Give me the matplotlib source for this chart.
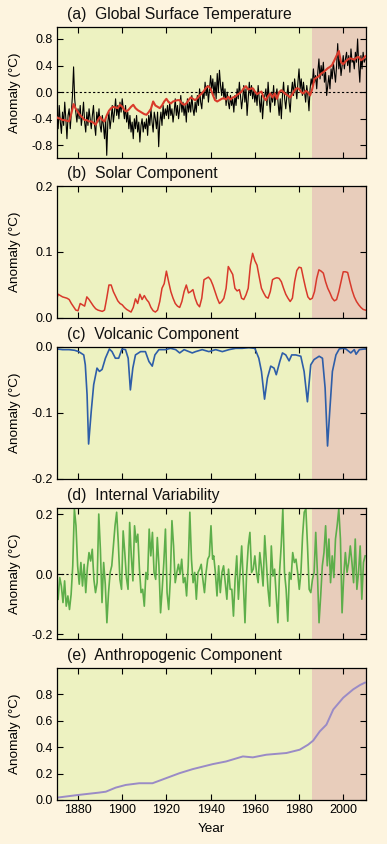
import numpy as np
import matplotlib
matplotlib.use("Agg")
import matplotlib.pyplot as plt

plt.rcParams['font.family'] = ['Liberation Sans', 'DejaVu Sans']
plt.rcParams['axes.unicode_minus'] = False

# ---------------- data ----------------
# (a) global surface temperature, half-yearly (black) from 1870.5
temp_raw = [
    -0.35, -0.55, -0.20, -0.45, -0.62, -0.30, -0.50, -0.15, -0.40, -0.70, -0.35, -0.25, -0.55, -0.30, -0.05, 0.38, -0.10, -0.30, -0.45, -0.25,
    -0.40, -0.20, -0.50, -0.35, -0.15, -0.45, -0.60, -0.30, -0.50, -0.25, -0.40, -0.55, -0.35, -0.20, -0.50, -0.65, -0.30, -0.45, -0.25, -0.50,
    -0.60, -0.35, -0.50, -0.70, -0.40, -0.95, -0.45, -0.30, -0.55, -0.40, -0.20, -0.45, -0.30, -0.10, -0.35, -0.20, -0.40, -0.15, -0.30, -0.10,
    -0.25, -0.40, -0.20, -0.45, -0.30, -0.55, -0.35, -0.60, -0.45, -0.70, -0.40, -0.55, -0.35, -0.60, -0.45, -0.75, -0.50, -0.40, -0.60, -0.45,
    -0.55, -0.40, -0.65, -0.35, -0.50, -0.25, -0.45, -0.60, -0.30, -0.40, -0.55, -0.30, -0.82, -0.45, -0.30, -0.50, -0.20, -0.40, -0.25, -0.35,
    -0.20, -0.40, -0.15, -0.35, -0.25, -0.45, -0.30, -0.10, -0.35, -0.20, -0.40, -0.25, -0.05, -0.30, -0.15, -0.35, -0.20, -0.45, -0.10, -0.30,
    -0.15, -0.30, -0.05, -0.25, -0.35, -0.15, -0.30, -0.05, -0.20, 0.05, -0.15, -0.25, 0.00, -0.10, 0.15, -0.05, 0.10, -0.15, 0.05, 0.25,
    0.05, 0.20, -0.05, 0.15, -0.10, 0.28, 0.00, 0.33, 0.10, -0.05, 0.15, -0.10, 0.05, -0.20, 0.00, -0.15, -0.25, -0.05, -0.20, -0.10,
    -0.30, -0.05, -0.20, 0.05, -0.10, 0.15, -0.05, -0.25, -0.10, 0.10, -0.15, 0.05, -0.35, -0.10, 0.15, -0.05, 0.10, -0.10, 0.05, -0.15,
    0.00, -0.20, 0.10, -0.10, -0.30, -0.05, -0.40, -0.15, -0.05, 0.05, -0.20, 0.15, -0.10, -0.30, 0.00, -0.15, 0.10, -0.20, -0.05, 0.05,
    -0.15, -0.35, -0.10, -0.40, -0.05, 0.15, -0.10, -0.25, -0.05, 0.10, -0.15, -0.30, 0.00, 0.15, -0.05, 0.20, 0.05, -0.10, 0.15, 0.35,
    0.05, 0.20, -0.05, 0.15, 0.00, -0.15, 0.10, -0.05, -0.28, 0.05, 0.20, 0.10, 0.35, 0.15, 0.25, 0.05, 0.30, 0.50, 0.20, 0.40,
    0.25, 0.45, 0.15, 0.30, -0.05, 0.10, 0.25, 0.05, 0.35, 0.20, 0.45, 0.30, 0.15, 0.40, 0.73, 0.35, 0.50, 0.25, 0.40, 0.55,
    0.35, 0.50, 0.60, 0.40, 0.55, 0.30, 0.65, 0.45, 0.50, 0.35, 0.60, 0.45, 0.80, 0.40, 0.15, 0.55, 0.35, 0.60, 0.45, 0.50,
]
temp_raw_start = 1870.5

# (a) smoothed / fitted temperature, annual from 1870 (red)
temp_fit = [
    -0.37, -0.39, -0.40, -0.42, -0.42, -0.43, -0.44, -0.32, -0.18, -0.25,
    -0.30, -0.35, -0.38, -0.42, -0.42, -0.44, -0.44, -0.46, -0.49, -0.42,
    -0.37, -0.42, -0.44, -0.35, -0.28, -0.24, -0.22, -0.23, -0.24, -0.19,
    -0.22, -0.27, -0.29, -0.26, -0.22, -0.19, -0.24, -0.27, -0.29, -0.31,
    -0.33, -0.34, -0.30, -0.25, -0.14, -0.20, -0.22, -0.24, -0.20, -0.14,
    -0.10, -0.15, -0.17, -0.14, -0.13, -0.12, -0.12, -0.17, -0.19, -0.17,
    -0.12, -0.08, -0.10, -0.12, -0.09, -0.05, -0.02, 0.02, 0.07, 0.09,
    0.05, -0.04, -0.12, -0.14, -0.12, -0.10, -0.09, -0.11, -0.07, -0.11,
    -0.08, -0.07, -0.04, -0.02, 0.01, 0.06, 0.09, 0.04, 0.05, 0.06,
    0.01, -0.03, -0.01, 0.01, -0.08, -0.12, -0.06, -0.02, -0.08, -0.02,
    -0.10, 0.00, 0.03, 0.00, -0.03, -0.05, -0.08, -0.03, 0.03, 0.06,
    0.05, 0.00, -0.02, 0.02, 0.00, -0.05, 0.05, 0.20, 0.22, 0.24,
    0.28, 0.30, 0.33, 0.36, 0.38, 0.41, 0.48, 0.55, 0.62, 0.45,
    0.42, 0.46, 0.49, 0.51, 0.50, 0.49, 0.52, 0.53, 0.48, 0.50,
    0.54,
]
temp_fit_start = 1870

# (b) solar component, annual from 1870
solar = [
    .024, .036, .034, .032, .031, .030, .028, .022, .017, .012,
    .011, .022, .020, .018, .032, .028, .023, .018, .014, .012,
    .011, .010, .012, .030, .050, .050, .040, .033, .026, .022,
    .020, .016, .013, .011, .009, .016, .029, .022, .036, .028,
    .034, .028, .024, .016, .011, .009, .012, .025, .045, .052,
    .071, .055, .040, .030, .022, .018, .016, .025, .040, .050,
    .038, .040, .043, .030, .021, .017, .030, .058, .060, .062,
    .058, .050, .040, .030, .022, .025, .030, .045, .078, .072,
    .066, .045, .041, .043, .030, .028, .035, .045, .080, .098,
    .087, .080, .062, .045, .038, .032, .030, .040, .058, .060,
    .061, .060, .055, .045, .036, .030, .025, .030, .055, .072,
    .077, .076, .060, .045, .032, .028, .030, .040, .060, .073,
    .071, .068, .055, .045, .038, .030, .026, .028, .040, .055,
    .070, .070, .069, .055, .042, .032, .025, .020, .016, .013,
    .012,
]
solar_start = 1870

# (c) volcanic component
volc_years = [1870.6, 1873, 1876, 1878.5, 1880.3, 1882.6, 1883.3, 1884.1, 1884.8, 1886.0,
              1887.1, 1888.6, 1889.7, 1890.9, 1892.4, 1894.2, 1895.4, 1896.9, 1898.4, 1899.9,
              1901.5, 1902.7, 1903.7, 1904.8, 1906.0, 1908.3, 1910.5, 1912.1, 1913.6, 1914.8,
              1916.6, 1919.6, 1921.9, 1924.2, 1926.0, 1928.0, 1930.2, 1931.7, 1933.2, 1936.2,
              1939.2, 1942.3, 1945.3, 1948.3, 1951.3, 1954.3, 1957.3, 1960.0, 1961.8, 1963.0,
              1964.4, 1965.7, 1967.2, 1968.7, 1969.7, 1971.3, 1972.5, 1974.0, 1975.5, 1976.7,
              1978.5, 1980.8, 1982.3, 1983.8, 1985.3, 1986.8, 1989.1, 1990.6, 1991.8, 1992.9,
              1993.9, 1995.1, 1996.7, 1998.2, 1999.7, 2001.2, 2003.4, 2005.0, 2005.8, 2007.3,
              2009.6, 2010.3]
volc_vals = [-0.003, -0.004, -0.004, -0.005, -0.007, -0.012, -0.027, -0.072, -0.147, -0.097,
             -0.057, -0.032, -0.037, -0.034, -0.017, -0.003, -0.007, -0.017, -0.017, -0.003,
             -0.004, -0.017, -0.065, -0.032, -0.012, -0.007, -0.007, -0.022, -0.029, -0.012,
             -0.004, -0.004, -0.002, -0.004, -0.009, -0.004, -0.007, -0.009, -0.007, -0.004,
             -0.007, -0.004, -0.007, -0.004, -0.002, -0.002, -0.001, -0.002, -0.017, -0.037,
             -0.079, -0.047, -0.029, -0.032, -0.042, -0.022, -0.009, -0.012, -0.021, -0.012,
             -0.012, -0.014, -0.037, -0.083, -0.027, -0.019, -0.014, -0.017, -0.062, -0.150,
             -0.097, -0.037, -0.012, -0.003, -0.002, -0.003, -0.009, -0.004, -0.011, -0.004,
             -0.003, -0.003]

# (d) internal variability (two stretches, roughly 0.75-yr steps)
intvar_1 = [
    -0.083, -0.011, -0.039, -0.094, -0.022, -0.106, -0.072, -0.117, -0.067, 0.028,
    0.217, 0.161, 0.028, -0.033, 0.039, -0.039, 0.033, -0.061, 0.022, 0.072,
    0.044, 0.083, -0.017, -0.061, -0.028, 0.200, 0.083, -0.094, 0.039, -0.033,
    -0.161, -0.061, 0.006, 0.028, 0.094, 0.161, 0.206, 0.106, -0.017, -0.050,
    0.144, 0.072, -0.011, -0.050, 0.172, 0.061, -0.022, 0.161, 0.106, 0.133,
    0.017, -0.061, -0.050, -0.106, 0.006, -0.017, 0.150, 0.061, 0.139, 0.006,
    -0.017, 0.122, 0.028, -0.128, -0.050, 0.039, 0.150, -0.061, -0.117, -0.017,
    0.178, 0.094, -0.028, 0.006, 0.033, 0.000, 0.050, -0.028, -0.011, -0.072,
    0.028, 0.206, 0.050, -0.028, 0.006, -0.083, 0.006, 0.017, 0.033, -0.017,
    -0.061, 0.006, 0.050, 0.061, 0.161, 0.050,
]
intvar_1_span = (1871.0, 1940.9)
intvar_2 = [
    0.061, 0.006, -0.072, 0.028, -0.061, 0.006, 0.028, -0.028, -0.083, 0.017,
    -0.050, -0.050, -0.139, -0.017, 0.061, -0.083, 0.006, 0.094, -0.028, -0.161,
    0.006, 0.094, 0.139, 0.006, 0.017, 0.061, 0.006, -0.028, 0.072, 0.022,
    -0.039, 0.128, 0.039, -0.050, -0.106, 0.094, -0.006, 0.017, -0.072, -0.161,
    0.006, 0.094, 0.217, 0.006, -0.050, -0.156, 0.006, -0.017, 0.072, 0.039,
    0.050, 0.006, -0.050, 0.006, 0.128, 0.206, 0.217, 0.094, -0.050, -0.061,
    -0.017, 0.006, 0.139, 0.006, -0.161, -0.072, 0.028, 0.072, 0.161, 0.028,
    0.117, -0.028, 0.061, -0.011, 0.117, 0.161, 0.217, 0.117, -0.128, -0.006,
    0.072, 0.006, 0.039, 0.094, 0.039, -0.028, 0.117, -0.050, 0.006, 0.094,
    -0.083, 0.039, 0.061,
]
intvar_2_span = (1941.4, 2009.9)

# (e) anthropogenic component
anth_years = [1870.6, 1880.0, 1889.5, 1892.6, 1897.1, 1901.6, 1907.7, 1913.7, 1919.8, 1925.9,
              1931.9, 1941.0, 1947.0, 1954.6, 1959.1, 1965.2, 1974.3, 1980.3, 1984.1, 1986.4,
              1989.4, 1992.4, 1995.5, 2000.0, 2004.5, 2007.6, 2009.8]
anth_vals = [0.018, 0.038, 0.056, 0.063, 0.094, 0.114, 0.127, 0.127, 0.165, 0.203,
             0.234, 0.272, 0.292, 0.330, 0.323, 0.343, 0.356, 0.381, 0.419, 0.450,
             0.520, 0.571, 0.686, 0.775, 0.838, 0.871, 0.889]

titles = ["(a)  Global Surface Temperature", "(b)  Solar Component",
          "(c)  Volcanic Component", "(d)  Internal Variability",
          "(e)  Anthropogenic Component"]
year_ticks = [1880, 1900, 1920, 1940, 1960, 1980, 2000]
yticks = [[0.8, 0.4, 0.0, -0.4, -0.8], [0.0, 0.1, 0.2], [0.0, -0.1, -0.2],
          [0.2, 0.0, -0.2], [0.0, 0.2, 0.4, 0.6, 0.8]]
ylims = [(-0.99, 0.98), (0.0, 0.2), (-0.2, 0.0), (-0.215, 0.22), (0.0, 1.0)]
split_year = 1986

# ---------------- style ----------------
BG = '#FDF4DF'
GREEN = '#EDF2C1'
PINK = '#E8CDBB'
XMIN, XMAX = 1870.5, 2010.3

fig = plt.figure(figsize=(3.87, 8.44), dpi=100, facecolor=BG)
L, W = 57 / 387, 309 / 387
rows = [(27, 158), (186, 318), (347, 479), (508, 639), (668, 800)]
axes = []
for i, (top, bot) in enumerate(rows):
    ax = fig.add_axes([L, 1 - bot / 844, W, (bot - top) / 844])
    ax.set_facecolor(GREEN)
    ax.axvspan(split_year, XMAX + 5, color=PINK, lw=0, zorder=0)
    ax.set_xlim(XMIN, XMAX)
    ax.set_ylim(*ylims[i])
    ax.set_xticks(year_ticks)
    ax.set_yticks(yticks[i])
    ax.set_yticklabels([f"{v:.1f}" for v in yticks[i]])
    ax.tick_params(direction='in', top=True, right=True, length=4, width=0.8,
                   labelsize=9, pad=3, colors='black')
    if i < 4:
        ax.tick_params(labelbottom=False)
    for s in ax.spines.values():
        s.set_linewidth(0.9)
    ax.set_ylabel('Anomaly (°C)', fontsize=9.7)
    ax.yaxis.set_label_coords(-0.115, 0.5)
    ax.text(0.032, 1.062, titles[i], transform=ax.transAxes, fontsize=11.3,
            va='baseline', ha='left', color='#111111')
    axes.append(ax)

# (a)
ax = axes[0]
x_raw = temp_raw_start + 0.5 * np.arange(len(temp_raw))
x_fit = temp_fit_start + np.arange(len(temp_fit))
ax.axhline(0, color='black', lw=0.8, ls=(0, (2, 2)), zorder=1)
ax.plot(x_raw, temp_raw, color='black', lw=0.8, zorder=2)
ax.plot(x_fit, temp_fit, color='#D93B2B', lw=1.5, zorder=3)

# (b)
ax = axes[1]
ax.plot(solar_start + np.arange(len(solar)), solar, color='#D8392B', lw=1.1)

# (c)
ax = axes[2]
ax.plot(volc_years, volc_vals, color='#2E5EA8', lw=1.2)

# (d)
ax = axes[3]
ax.axhline(0, color='black', lw=0.8, ls=(0, (2, 2)), zorder=1)
x1 = np.linspace(intvar_1_span[0], intvar_1_span[1], len(intvar_1))
x2 = np.linspace(intvar_2_span[0], intvar_2_span[1], len(intvar_2))
ax.plot(np.concatenate([x1, x2]), intvar_1 + intvar_2, color='#5DAE4A', lw=1.2, zorder=2)

# (e)
ax = axes[4]
ax.plot(anth_years, anth_vals, color='#9A8BC6', lw=1.4)
ax.set_xlabel('Year', fontsize=9.7, labelpad=5)

fig.savefig('out.png', dpi=100, facecolor=BG)
